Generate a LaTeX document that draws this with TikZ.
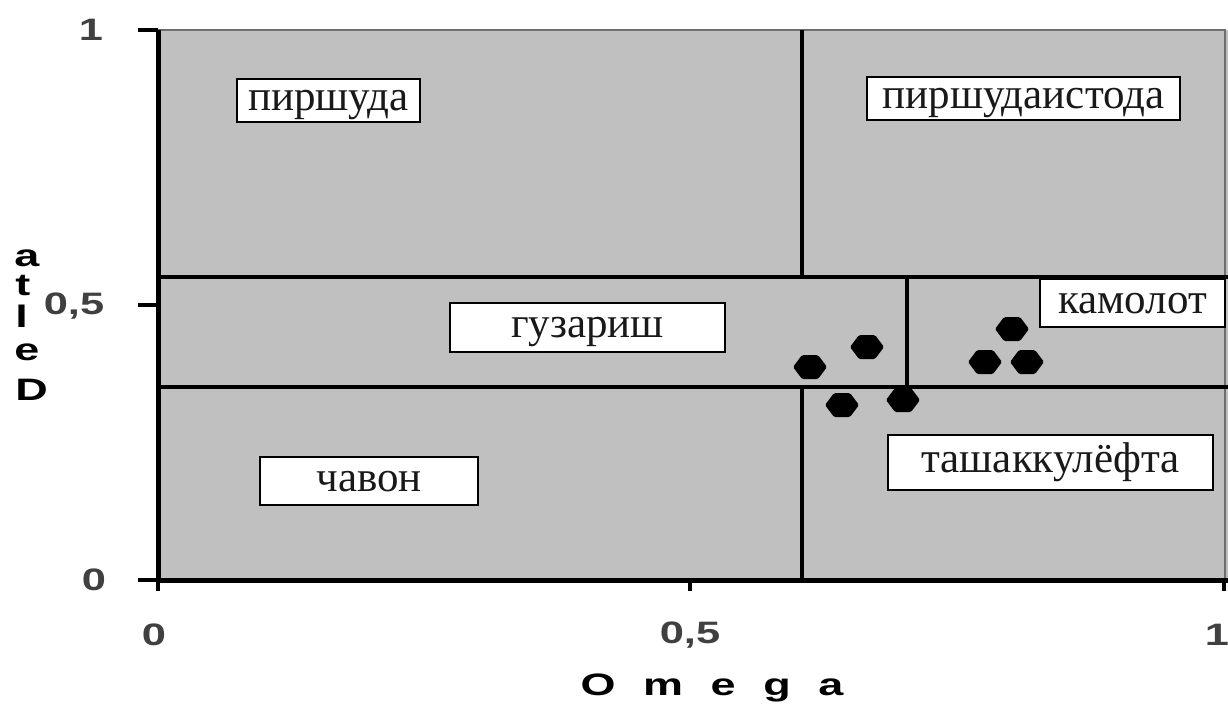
\documentclass[tikz,border=0pt]{standalone}
\usepackage{fontspec}
\setmainfont{Liberation Serif}
\newfontfamily\axisfont{Liberation Sans}
\definecolor{plotgray}{RGB}{192,192,192}
\definecolor{framegray}{RGB}{110,110,110}
\definecolor{inktext}{RGB}{25,25,25}
\tikzset{
  axisline/.style={line width=5pt, black},
  gridline/.style={line width=4pt, black},
  tickline/.style={line width=3.5pt, black},
  zonebox/.style={draw=black, line width=2pt, fill=white, inner sep=0pt,
    text=inktext, text height=20pt, text depth=0pt,
    font=\fontsize{43}{50}\selectfont},
  ticklab/.style={text=black!75, inner sep=0pt, xscale=1.4,
    font=\axisfont\bfseries\fontsize{31}{36}\selectfont},
  titlelab/.style={text=black, inner sep=0pt, xscale=1.45,
    font=\axisfont\bfseries\fontsize{31}{36}\selectfont},
  datapt/.pic={\fill[black, rounded corners=1.5pt]
    (-17,0) -- (-8,-12) -- (8,-12) -- (17,0) -- (8,12) -- (-8,12) -- cycle;}
}
\begin{document}
\begin{tikzpicture}[x=1pt,y=-1pt]
\useasboundingbox (0,0) rectangle (1228,705);
\fill[white] (0,0) rectangle (1228,705);

% plot area
\fill[plotgray] (158,30) rectangle (1228,580);
\draw[framegray, line width=2pt] (158,30) -- (1225,30) -- (1225,580);

% zone boundaries
\draw[gridline] (802,30) -- (802,277);
\draw[gridline] (158,277) -- (1228,277);
\draw[gridline] (158,387) -- (1228,387);
\draw[gridline] (907,277) -- (907,387);
\draw[gridline] (802,387) -- (802,580);

% axes and ticks
\draw[axisline] (158,30) -- (158,580) -- (1228,580);
\draw[tickline] (138,30) -- (158,30);
\draw[tickline] (138,305) -- (158,305);
\draw[tickline] (138,580) -- (158,580);
\draw[tickline] (158,580) -- (158,591);
\draw[tickline] (690,580) -- (690,591);
\draw[tickline] (1224,580) -- (1224,591);

% tick labels
\node[ticklab] (y1)  at (91,30)   {1};
\node[ticklab] (y05) at (74,306)  {0,5};
\node[ticklab] (y0)  at (94,580)  {0};
\node[ticklab] (x0)  at (154,635) {0};
\node[ticklab] (x05) at (690,635) {0,5};
\node[ticklab] (x1)  at (1217,635) {1};

% axis titles
\node[titlelab] (xtitle) at (712,688)
  {O\hspace{19pt}m\hspace{19pt}e\hspace{19pt}g\hspace{19pt}a};
\node[titlelab, anchor=base west] (yt1) at (14,266) {a};
\node[titlelab, anchor=base west] (yt2) at (15,295) {t};
\node[titlelab, anchor=base west] (yt3) at (15,327) {l};
\node[titlelab, anchor=base west] (yt4) at (14,360) {e};
\node[titlelab, anchor=base west] (yt5) at (15,400) {D};

% zone labels
\node[zonebox, minimum width=183pt, minimum height=43pt] (z1) at (328.5,100.5) {пиршуда};
\node[zonebox, minimum width=313pt, minimum height=43pt] (z2) at (1023.5,98.5) {пиршудаистода};
\node[zonebox, minimum width=275pt, minimum height=49pt] (z3) at (587.5,327.5) {гузариш};
\node[zonebox, minimum width=185pt, minimum height=48pt] (z4) at (1132.5,303) {камолот};
\node[zonebox, minimum width=218pt, minimum height=48pt] (z5) at (369,481) {чавон};
\node[zonebox, minimum width=325pt, minimum height=55pt] (z6) at (1050.5,462.5) {ташаккулёфта\hspace{26pt}};

% data points
\pic at (810,367) {datapt};
\pic at (867,347) {datapt};
\pic at (842,405) {datapt};
\pic at (903,400) {datapt};
\pic at (1012,329) {datapt};
\pic at (985,362) {datapt};
\pic at (1027,362) {datapt};
\end{tikzpicture}
\end{document}
